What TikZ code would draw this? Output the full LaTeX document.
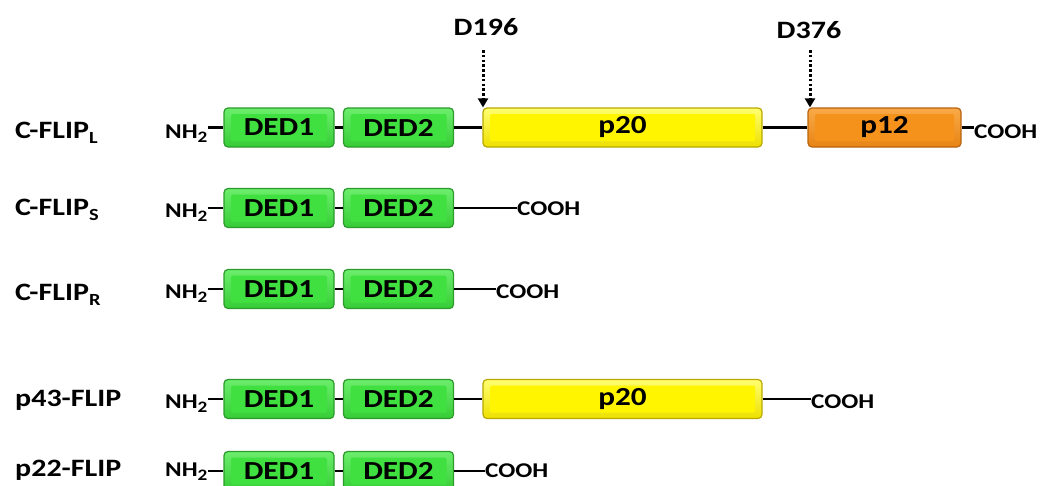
\documentclass[tikz,border=0pt]{standalone}
\usepackage{fontspec}
\setmainfont{Carlito}[FakeStretch=1.2]
\usetikzlibrary{arrows.meta}
\definecolor{gmain}{HTML}{40E040}
\definecolor{gtop}{HTML}{6CEE6C}
\definecolor{gbot}{HTML}{36CC36}
\definecolor{gbord}{HTML}{2C9A2C}
\definecolor{ymain}{HTML}{FFF500}
\definecolor{ytop}{HTML}{FFFF70}
\definecolor{ybot}{HTML}{EEE000}
\definecolor{ybord}{HTML}{B8A800}
\definecolor{omain}{HTML}{F5921C}
\definecolor{otop}{HTML}{F9AA48}
\definecolor{obot}{HTML}{E88414}
\definecolor{obord}{HTML}{B86410}
\newcommand{\sbs}[1]{\raisebox{-0.45ex}{\fontsize{17}{17}\selectfont #1}}
\newcommand{\nhtwo}{NH\raisebox{-0.4ex}{\fontsize{16}{16}\selectfont 2}}
\tikzset{
  dom/.style={rounded corners=4pt, minimum height=39pt, inner sep=0pt, line width=1.2pt,
    font=\fontsize{26}{26}\selectfont\bfseries},
  bevel/.style n args={3}{top color=#1, bottom color=#3,
    path picture={\fill[#2, rounded corners=1.5pt] ([shift={(7pt,-6pt)}]path picture bounding box.north west)
      rectangle ([shift={(-7pt,6pt)}]path picture bounding box.south east);}},
  ded/.style={dom, draw=gbord, bevel={gtop}{gmain}{gbot}, minimum width=110pt},
  pyel/.style={dom, draw=ybord, bevel={ytop}{ymain}{ybot}, minimum width=279pt},
  porg/.style={dom, draw=obord, bevel={otop}{omain}{obot}, minimum width=153pt},
  rowlab/.style={anchor=base west, inner sep=0pt, font=\fontsize{25}{25}\selectfont\bfseries},
  term/.style={anchor=base west, inner sep=0pt, font=\fontsize{21}{21}\selectfont\bfseries},
  link/.style={line width=2.8pt, black},
  cleave/.style={line width=3pt, dash pattern=on 2.6pt off 2.2pt, -{Triangle[width=10pt,length=9pt]}},
  site/.style={anchor=base, inner sep=0pt, font=\fontsize{25}{25}\selectfont\bfseries},
}
\begin{document}
\begin{tikzpicture}[x=1pt,y=-1pt]
\useasboundingbox (0,0) rectangle (1047,485);
% Row 1: C-FLIP_L
\node[rowlab] (l1) at (15,138) {C-FLIP\sbs{L}};
\node[term] (n1) at (165,138) {\nhtwo};
\node[ded] (a1) at (279,127.5) {DED1};
\node[ded] (b1) at (398.5,127.5) {DED2};
\node[pyel] (c1) at (622.5,127.5) {p20};
\node[porg] (e1) at (884.5,127.5) {p12};
\node[term] (t1) at (974,138) {COOH};
\draw[link] (n1.east |- a1.west) -- (a1.west);
\draw[link] (a1.east) -- (b1.west);
\draw[link] (b1.east) -- (c1.west);
\draw[link] (c1.east) -- (e1.west);
\draw[link] (e1.east) -- (t1.west |- e1.east);
% cleavage sites
\node[site] (s1) at (486,35) {D196};
\node[site] (s2) at (809,38) {D376};
\coordinate (s1t) at (483,50);
\coordinate (s2t) at (810,50);
\draw[cleave] (s1t) -- (c1.north west -| s1t);
\draw[cleave] (s2t) -- (e1.north west -| s2t);
% Row 2: C-FLIP_S
\node[rowlab] (l2) at (15,215) {C-FLIP\sbs{S}};
\node[term] (n2) at (165,217) {\nhtwo};
\node[ded] (a2) at (279,208) {DED1};
\node[ded] (b2) at (398.5,208) {DED2};
\node[term] (t2) at (517,215) {COOH};
\draw[link] (n2.east |- a2.west) -- (a2.west);
\draw[link] (a2.east) -- (b2.west);
\draw[link] (b2.east) -- (t2.west |- b2.east);
% Row 3: C-FLIP_R
\node[rowlab] (l3) at (15,300) {C-FLIP\sbs{R}};
\node[term] (n3) at (165,298) {\nhtwo};
\node[ded] (a3) at (279,289) {DED1};
\node[ded] (b3) at (398.5,289) {DED2};
\node[term] (t3) at (496,298) {COOH};
\draw[link] (n3.east |- a3.west) -- (a3.west);
\draw[link] (a3.east) -- (b3.west);
\draw[link] (b3.east) -- (t3.west |- b3.east);
% Row 4: p43-FLIP
\node[rowlab] (l4) at (15,406) {p43-FLIP};
\node[term] (n4) at (165,408) {\nhtwo};
\node[ded] (a4) at (279,399) {DED1};
\node[ded] (b4) at (398.5,399) {DED2};
\node[pyel] (c4) at (622.5,399) {p20};
\node[term] (t4) at (811,408) {COOH};
\draw[link] (n4.east |- a4.west) -- (a4.west);
\draw[link] (a4.east) -- (b4.west);
\draw[link] (b4.east) -- (c4.west);
\draw[link] (c4.east) -- (t4.west |- c4.east);
% Row 5: p22-FLIP
\node[rowlab] (l5) at (15,476) {p22-FLIP};
\node[term] (n5) at (165,476) {\nhtwo};
\node[ded] (a5) at (279,471) {DED1};
\node[ded] (b5) at (398.5,471) {DED2};
\node[term] (t5) at (485,477) {COOH};
\draw[link] (n5.east |- a5.west) -- (a5.west);
\draw[link] (a5.east) -- (b5.west);
\draw[link] (b5.east) -- (t5.west |- b5.east);
\end{tikzpicture}
\end{document}
